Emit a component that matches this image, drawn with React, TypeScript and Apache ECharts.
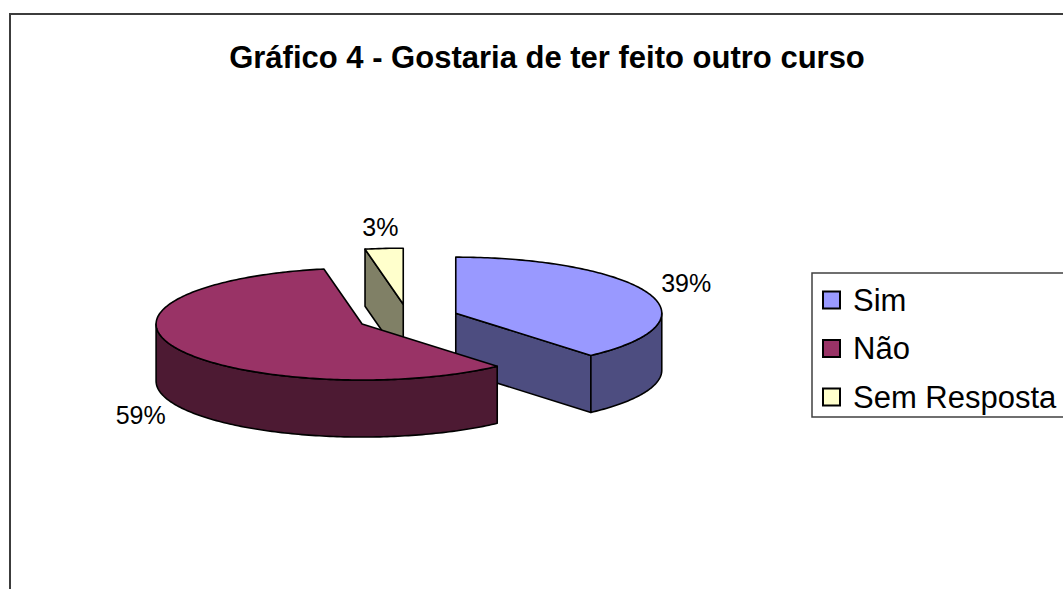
import React, { useEffect, useRef } from "react";
import * as echarts from "echarts";

const categories = ["Sim", "Não", "Sem Resposta"];
const percents = [39, 59, 3];
const labels = ["39%", "59%", "3%"];
const topColors = ["#9999FF", "#993366", "#FFFFCC"];
const sideColors = ["#4D4D80", "#4D1A33", "#808066"];
const titleText = "Gráfico 4 - Gostaria de ter feito outro curso";

const CX = 408, CY = 318, RX = 206, RY = 56, DEPTH = 57, EXPLODE = 51;
const FONT = '"Liberation Sans", Arial, sans-serif';

export default function App() {
  const ref = useRef<HTMLDivElement>(null);
  useEffect(() => {
    const chart = echarts.init(ref.current!, null, { renderer: "svg" });
    const total = percents.reduce((a, b) => a + b, 0);
    const starts: number[] = [];
    const ends: number[] = [];
    let acc = 0;
    percents.forEach((v) => {
      starts.push((acc / total) * 360);
      acc += v;
      ends.push((acc / total) * 360);
    });
    const rad = (d: number) => (d * Math.PI) / 180;
    const k = RY / RX;
    const centerOf = (i: number) => {
      const m = rad((starts[i] + ends[i]) / 2);
      return [CX + EXPLODE * Math.sin(m), CY - EXPLODE * k * Math.cos(m)];
    };
    const pt = (c: number[], deg: number, dy = 0) => [
      c[0] + RX * Math.sin(rad(deg)),
      c[1] - RY * Math.cos(rad(deg)) + dy,
    ];
    const arc = (c: number[], a0: number, a1: number, dy = 0) => {
      const n = Math.max(2, Math.ceil(Math.abs(a1 - a0)));
      const out: number[][] = [];
      for (let j = 0; j <= n; j++) out.push(pt(c, a0 + ((a1 - a0) * j) / n, dy));
      return out;
    };
    const edge = { stroke: "#000", lineWidth: 1.6, lineJoin: "round" };

    const renderSlice = (i: number) => () => {
      const c = centerOf(i);
      const a0 = starts[i];
      const a1 = ends[i];
      const children: any[] = [];
      const cutFace = (a: number) => ({
        type: "polygon",
        shape: { points: [c, pt(c, a), pt(c, a, DEPTH), [c[0], c[1] + DEPTH]] },
        style: { fill: sideColors[i], ...edge },
      });
      if (Math.sin(rad(a0)) < -1e-6) children.push(cutFace(a0));
      if (Math.sin(rad(a1)) > 1e-6) children.push(cutFace(a1));
      const w0 = Math.max(a0, 90);
      const w1 = Math.min(a1, 270);
      if (w1 > w0) {
        children.push({
          type: "polygon",
          shape: { points: [...arc(c, w0, w1), ...arc(c, w1, w0, DEPTH)] },
          style: { fill: sideColors[i], ...edge },
        });
      }
      children.push({
        type: "polygon",
        shape: { points: [c, ...arc(c, a0, a1)] },
        style: { fill: topColors[i], ...edge },
      });
      const m = rad((a0 + a1) / 2);
      const lx = c[0] + (RX + 40) * Math.sin(m);
      const ly = c[1] - (RY + 22) * Math.cos(m) + (Math.cos(m) < 0 ? DEPTH : 0) - (Math.sin(m) > 0.5 ? 3 : 0);
      children.push({
        type: "text",
        x: lx,
        y: ly,
        style: {
          text: labels[i],
          fill: "#000",
          font: `25px ${FONT}`,
          align: "center",
          verticalAlign: "middle",
        },
      });
      return { type: "group", children };
    };

    const order = categories
      .map((_, i) => i)
      .sort((a, b) => {
        const ma = rad((starts[a] + ends[a]) / 2);
        const mb = rad((starts[b] + ends[b]) / 2);
        return -Math.cos(ma) - -Math.cos(mb);
      });

    const series = order.map((i, r) => ({
      type: "custom",
      name: categories[i],
      coordinateSystem: "none",
      data: [percents[i]],
      renderItem: renderSlice(i),
      z: 2 + r,
      silent: true,
    }));

    const legendTop = 300;
    const legendGap = 48.5;
    const legendEls: any[] = [
      {
        type: "rect",
        shape: { x: 812, y: 273, width: 320, height: 144 },
        style: { fill: "#fff", stroke: "#404040", lineWidth: 1.5 },
        z: 1,
      },
    ];
    categories.forEach((name, i) => {
      const cy = legendTop + i * legendGap;
      legendEls.push({
        type: "rect",
        shape: { x: 823, y: cy - 8.5, width: 17, height: 17 },
        style: { fill: topColors[i], stroke: "#000", lineWidth: 2 },
        z: 2,
      });
      legendEls.push({
        type: "text",
        x: 853,
        y: cy,
        style: {
          text: name,
          fill: "#000",
          font: `31px ${FONT}`,
          align: "left",
          verticalAlign: "middle",
        },
        z: 2,
      });
    });

    chart.setOption({
      animation: false,
      backgroundColor: "#fff",
      title: {
        text: titleText,
        left: 542,
        top: 37,
        textAlign: "center",
        textStyle: {
          fontFamily: FONT,
          fontSize: 31,
          fontWeight: "bold",
          color: "#000",
        },
      },
      graphic: [
        {
          type: "rect",
          shape: { x: 10, y: 14, width: 1100, height: 600 },
          style: { fill: "none", stroke: "#3c3c3c", lineWidth: 2 },
          z: 0,
        },
        ...legendEls,
      ],
      series,
    });
    return () => chart.dispose();
  }, []);
  return (
    <div
      ref={ref}
      style={{ position: "fixed", left: 0, top: 0, width: 1063, height: 589 }}
    />
  );
}
